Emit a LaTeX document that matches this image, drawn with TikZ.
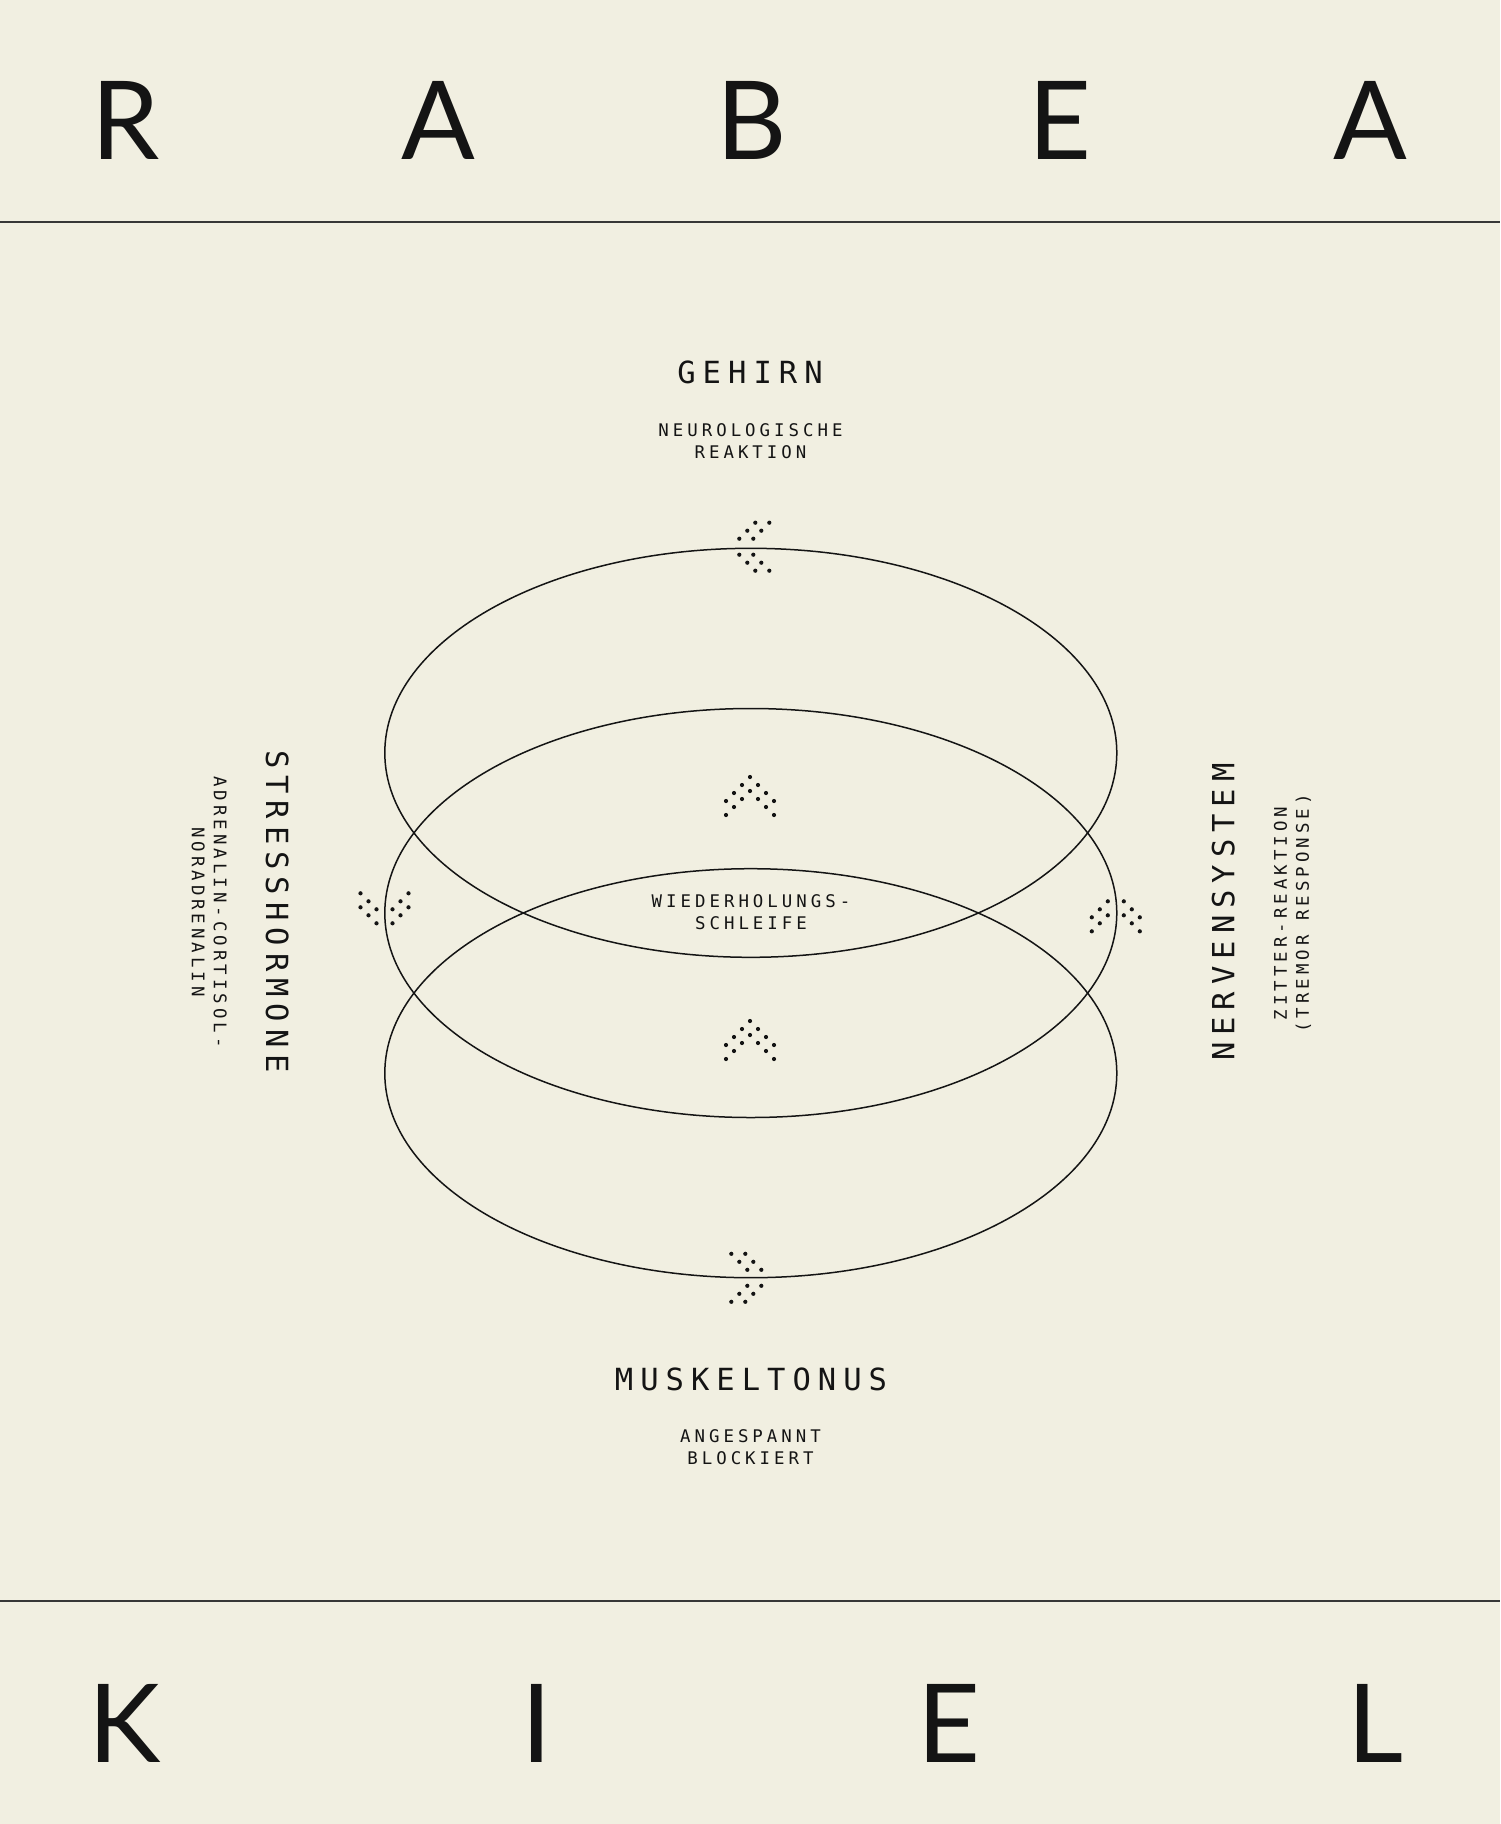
\documentclass[tikz,border=0pt]{standalone}
\usepackage{fontspec}
\usepackage{tikz}
\setmainfont{Lato}
\newfontfamily\monofont[LetterSpace=23]{DejaVu Sans Mono}
\definecolor{paper}{HTML}{F1EFE1}
\definecolor{ink}{HTML}{141414}
\tikzstyle{bigletter} = [font=\fontsize{109}{120}\selectfont, text=ink, anchor=base, inner sep=0pt]
\tikzstyle{heading} = [font=\monofont\fontsize{30.5}{36}\selectfont, text=ink, inner sep=0pt]
\tikzstyle{subline} = [font=\monofont\fontsize{17.4}{22}\selectfont, text=ink, align=center, inner sep=0pt]
\tikzstyle{ring} = [draw=ink, line width=1.5pt]
\tikzstyle{rule} = [draw=ink!85, line width=1.5pt]
\tikzset{
  pics/flow/.style={code={
    \foreach \s in {0,14}
      \foreach \k in {1,2,3}{\fill[ink] (-8*\k,\s+8*\k) circle (2.1pt) (8*\k,\s+8*\k) circle (2.1pt);}
  }},
  pics/flowtip/.style={code={
    \foreach \s in {0,14}{
      \fill[ink] (0,\s) circle (2.1pt);
      \foreach \k in {1,2,3}{\fill[ink] (-8*\k,\s+8*\k) circle (2.1pt) (8*\k,\s+8*\k) circle (2.1pt);}
    }
  }}
}

\begin{document}
\begin{tikzpicture}[x=1pt, y=-1pt]
\fill[paper] (0,0) rectangle (1500,1824);
\useasboundingbox (0,0) rectangle (1500,1824);
% header and footer
\node (r1) [bigletter] at (126,159.3) {R};
\node (a1) [bigletter] at (438.5,159.3) {A};
\node (b1) [bigletter] at (752,159.3) {B};
\node (e1) [bigletter] at (1060,159.3) {E};
\node (a2) [bigletter] at (1370.5,159.3) {A};
\node (k1) [bigletter] at (125,1762.3) {K};
\node (i1) [bigletter] at (536.5,1762.3) {I};
\node (e2) [bigletter] at (948.5,1762.3) {E};
\node (l1) [bigletter] at (1375,1762.3) {L};
\draw [rule] (0,222) -- (1500,222);
\draw [rule] (0,1601) -- (1500,1601);
% the three loops
\coordinate (c1) at (750.8,752.8);
\coordinate (c2) at (750.8,913);
\coordinate (c3) at (750.8,1073.2);
\draw [ring] (c1) ellipse [x radius=366, y radius=204.5];
\draw [ring] (c2) ellipse [x radius=366, y radius=204.5];
\draw [ring] (c3) ellipse [x radius=366, y radius=204.5];
% flow markers
\pic [rotate=90] at (731.3,546.7) {flow};
\pic [rotate=180] at (384.5,931.3) {flow};
\pic at (1115.8,893.3) {flow};
\pic [rotate=-90] at (769.3,1277.8) {flow};
\pic at (750,777) {flowtip};
\pic at (750,1021) {flowtip};
% labels
\node (gehirn) [heading] at (750,372) {GEHIRN};
\node (gehirnsub) [subline] at (750.5,440.8) {NEUROLOGISCHE\\REAKTION};
\node (schleife) [subline] at (751,912.5) {WIEDERHOLUNGS-\\SCHLEIFE};
\node (muskel) [heading] at (751,1379) {MUSKELTONUS};
\node (muskelsub) [subline] at (750.5,1447.3) {ANGESPANNT\\BLOCKIERT};
\node (stress) [heading, rotate=-90] at (277.3,911.5) {STRESSHORMONE};
\node (stresssub) [subline, rotate=-90] at (209.2,912) {ADRENALIN-CORTISOL-\\NORADRENALIN};
\node (nerven) [heading, rotate=90] at (1223.3,912) {NERVENSYSTEM};
\node (nervensub) [subline, rotate=90] at (1292.5,913.5) {ZITTER-REAKTION\\(TREMOR RESPONSE)};
\end{tikzpicture}
\end{document}
